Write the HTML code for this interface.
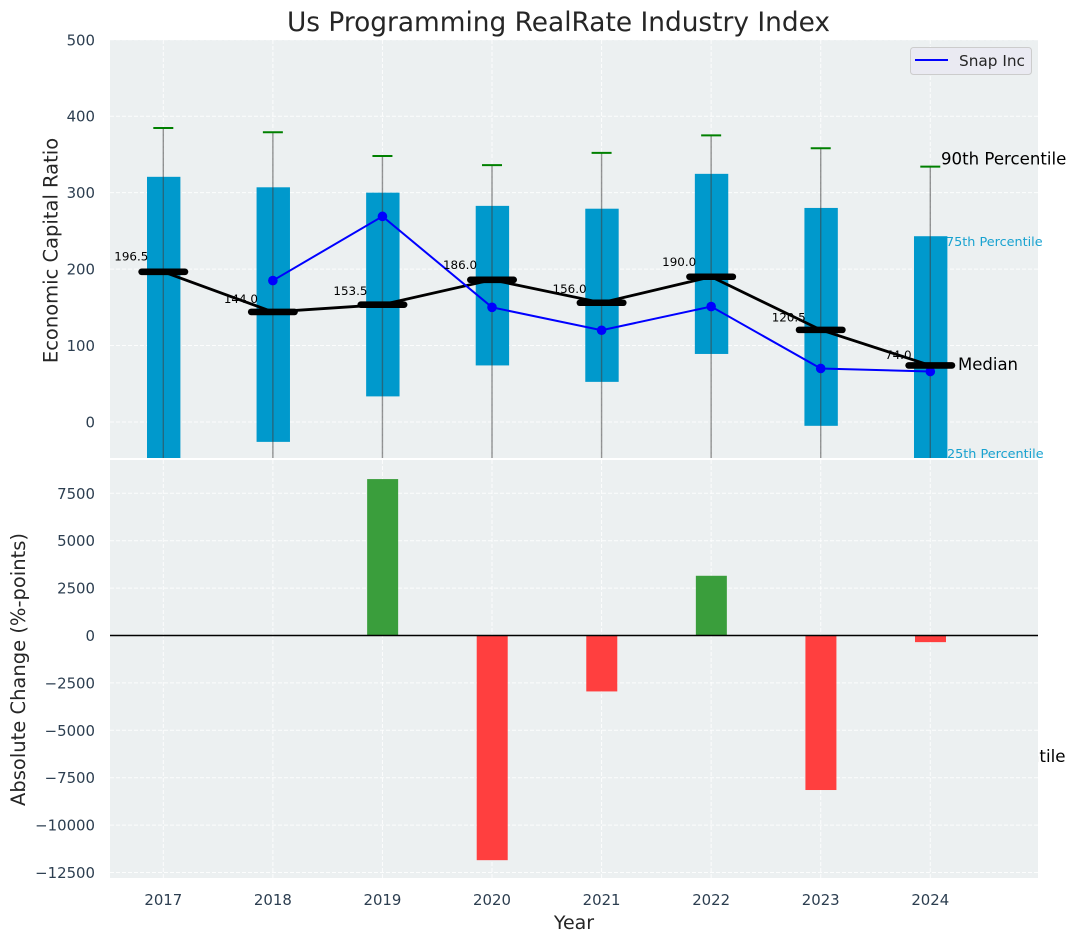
<!DOCTYPE html>
<html lang="en">
<head>
<meta charset="utf-8">
<title>Us Programming RealRate Industry Index</title>
<style>
html,body{margin:0;padding:0;background:#fff;}
body{width:1076px;height:942px;overflow:hidden;}
svg{display:block;font-family:"DejaVu Sans","Liberation Sans",sans-serif;}
</style>
</head>
<body>
<svg id="chart" xmlns="http://www.w3.org/2000/svg" width="1076" height="942" viewBox="0 0 1076 942">
<defs>
<clipPath id="clip-top"><rect x="110" y="40" width="928" height="418"></rect></clipPath>
<clipPath id="clip-bottom"><rect x="110" y="460" width="928" height="418"></rect></clipPath>
</defs>
</svg>
<script>
const years = [2017, 2018, 2019, 2020, 2021, 2022, 2023, 2024];
const q75 = [320.7, 307, 300, 282.7, 279, 324.6, 280, 243];
const q25 = [-70, -26, 33.5, 74, 52.5, 89, -5, -70];
const p90 = [384.5, 379, 348, 336, 352, 375, 358, 334];
const p10 = [-150, -150, -150, -150, -150, -150, -150, -150];
const medians = [196.5, 144.0, 153.5, 186.0, 156.0, 190.0, 120.5, 74.0];
const snapInc = [null, 185, 269, 150, 120, 151, 70, 66];
const absoluteChange = [null, null, 8250, -11850, -2950, 3150, -8150, -350];
const topTicks = [500, 400, 300, 200, 100, 0];
const bottomTicks = [7500, 5000, 2500, 0, -2500, -5000, -7500, -10000, -12500];

const svg = document.getElementById('chart');
const NS = 'http://www.w3.org/2000/svg';
const xAt = function (i) { return 163.3 + i * 109.57; };
const yTop = function (v) { return 422 - v * 0.7645; };
const yBottom = function (v) { return 635.5 - v * 0.01896; };

function make(tag, attrs, parent, text) {
  const node = document.createElementNS(NS, tag);
  for (const k in attrs) node.setAttribute(k, attrs[k]);
  if (text !== undefined) node.textContent = text;
  (parent || svg).appendChild(node);
  return node;
}
let el;

const topPanel = make('g', {});



el = make('rect', {x: 110, y: 40, width: 928, height: 418, fill: '#ecf0f1'}, topPanel);



const topGrid = make('g', {stroke: '#fff', 'stroke-width': 1, 'stroke-dasharray': '4 2', 'stroke-opacity': 0.85}, topPanel);


topTicks.forEach(function (t) {
  el = make('line', {x1: 110, x2: 1038, y1: yTop(t), y2: yTop(t)}, topGrid);
  
  
  el = make('text', {x: 95, y: yTop(t) + 5.5, 'text-anchor': 'end', 'font-size': 14.9, fill: '#2c3e50', stroke: 'none'}, topPanel, String(t));
  
  
});
years.forEach(function (y, i) {
  el = make('line', {x1: xAt(i), x2: xAt(i), y1: 40, y2: 458}, topGrid);
  
  
});

const topMarks = make('g', {'clip-path': 'url(#clip-top)'}, topPanel);



years.forEach(function (y, i) {
  el = make('rect', {x: xAt(i) - 16.3, y: yTop(q75[i]), width: 33.4, height: yTop(q25[i]) - yTop(q75[i]), fill: '#0099cc'}, topMarks);
  
  
  el = make('line', {x1: xAt(i), x2: xAt(i), y1: yTop(p90[i]), y2: yTop(p10[i]), stroke: '#3f3f3f', 'stroke-opacity': 0.55, 'stroke-width': 1.4}, topMarks);
  
  
  el = make('line', {x1: xAt(i) - 10, x2: xAt(i) + 10, y1: yTop(p90[i]), y2: yTop(p90[i]), stroke: '#008000', 'stroke-width': 2}, topMarks);
  
  
});

el = make('polyline', {points: medians.map(function (m, i) { return xAt(i) + ',' + yTop(m); }).join(' '), fill: 'none', stroke: '#000', 'stroke-width': 2.8}, topMarks);



const snapPoints = [];
snapInc.forEach(function (v, i) { if (v !== null) snapPoints.push(xAt(i) + ',' + yTop(v)); });
el = make('polyline', {points: snapPoints.join(' '), fill: 'none', stroke: '#0000ff', 'stroke-width': 2}, topMarks);


snapInc.forEach(function (v, i) {
  if (v === null) return;
  el = make('circle', {cx: xAt(i), cy: yTop(v), r: 4.8, fill: '#0000ff'}, topMarks);
  
  
});

medians.forEach(function (m, i) {
  el = make('line', {x1: xAt(i) - 21.7, x2: xAt(i) + 21.7, y1: yTop(m), y2: yTop(m), stroke: '#000', 'stroke-width': 6.6, 'stroke-linecap': 'round'}, topMarks);
  
  
});

medians.forEach(function (m, i) {
  el = make('text', {x: xAt(i) - 32, y: yTop(m * 1.05) - 3.6, 'text-anchor': 'middle', 'font-size': 11.9, fill: '#000'}, topPanel, m.toFixed(1));
  
  
});

el = make('text', {x: 941, y: 164.5, 'font-size': 16.6, fill: '#000'}, svg, '90th Percentile');


el = make('text', {x: 946, y: 246, 'font-size': 12.8, fill: '#0099cc', 'fill-opacity': 0.9}, svg, '75th Percentile');


el = make('text', {x: 958, y: 370, 'font-size': 16.5, fill: '#000'}, svg, 'Median');


el = make('text', {x: 947, y: 458, 'font-size': 12.8, fill: '#0099cc', 'fill-opacity': 0.9}, svg, '25th Percentile');


el = make('text', {x: 939.5, y: 762, 'font-size': 16.7, fill: '#000'}, svg, '10th Percentile');



const legend = make('g', {});


el = make('rect', {x: 910.5, y: 47.5, width: 121, height: 27, rx: 3, fill: '#eaeaf2', stroke: '#cccccc', 'stroke-width': 1}, legend);


el = make('line', {x1: 915, x2: 948, y1: 60, y2: 60, stroke: '#0000ff', 'stroke-width': 2}, legend);


el = make('text', {x: 959, y: 66, 'font-size': 15.3, fill: '#262626'}, legend, 'Snap Inc');



const bottomPanel = make('g', {});



el = make('rect', {x: 110, y: 460, width: 928, height: 418, fill: '#ecf0f1'}, bottomPanel);



const bottomGrid = make('g', {stroke: '#fff', 'stroke-width': 1, 'stroke-dasharray': '4 2', 'stroke-opacity': 0.85}, bottomPanel);


bottomTicks.forEach(function (t) {
  el = make('line', {x1: 110, x2: 1038, y1: yBottom(t), y2: yBottom(t)}, bottomGrid);
  
  
  el = make('text', {x: 95, y: yBottom(t) + 5.5, 'text-anchor': 'end', 'font-size': 14.9, fill: '#2c3e50', stroke: 'none'}, bottomPanel, String(t).replace('-', '\u2212'));
  
  
});
years.forEach(function (y, i) {
  el = make('line', {x1: xAt(i), x2: xAt(i), y1: 460, y2: 878}, bottomGrid);
  
  
  el = make('text', {x: xAt(i), y: 905, 'text-anchor': 'middle', 'font-size': 14.9, fill: '#2c3e50'}, bottomPanel, String(y));
  
  
});

const bottomMarks = make('g', {'clip-path': 'url(#clip-bottom)'}, bottomPanel);


absoluteChange.forEach(function (v, i) {
  if (v === null) return;
  const top = Math.min(yBottom(v), yBottom(0));
  const h = Math.abs(yBottom(v) - yBottom(0));
  el = make('rect', {x: xAt(i) - 15.3, y: top, width: 31, height: h, fill: v >= 0 ? '#3a9e3c' : '#ff3f3f'}, bottomMarks);
  
  
});
el = make('line', {x1: 110, x2: 1038, y1: yBottom(0), y2: yBottom(0), stroke: '#000', 'stroke-width': 1.4}, bottomPanel);



el = make('text', {x: 558.5, y: 31, 'text-anchor': 'middle', 'font-size': 26.4, fill: '#262626'}, svg, 'Us Programming RealRate Industry Index');


el = make('text', {x: 574, y: 929, 'text-anchor': 'middle', 'font-size': 19, fill: '#262626'}, svg, 'Year');


el = make('text', {transform: 'translate(57.5 250.5) rotate(-90)', 'text-anchor': 'middle', 'font-size': 19.5, fill: '#262626'}, svg, 'Economic Capital Ratio');


el = make('text', {transform: 'translate(25 669.5) rotate(-90)', 'text-anchor': 'middle', 'font-size': 19.5, fill: '#262626'}, svg, 'Absolute Change (%-points)');


</script>
</body>
</html>
